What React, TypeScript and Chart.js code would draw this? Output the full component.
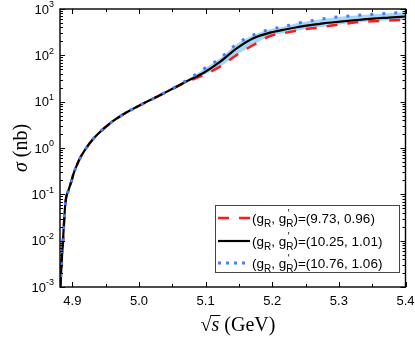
import React, { useEffect, useRef } from 'react';
import { Chart, registerables } from 'chart.js';

Chart.register(...registerables);

// sqrt(s) in GeV
const energies = [4.8820, 4.8840, 4.8855, 4.8870, 4.8890, 4.8905, 4.8940, 4.8990, 4.9015, 4.9060, 4.9115, 4.9190, 4.9315, 4.9565, 4.9816, 5.0065, 5.0316, 5.0466, 5.0716, 5.0966, 5.1216, 5.1466, 5.1716, 5.1966, 5.2167, 5.2367, 5.2567, 5.2766, 5.3017, 5.3267, 5.3512, 5.3750, 5.4000];
// sigma (nb) for (gR, gR') = (10.25, 1.01)
const sigmaCentral = [0.0009, 0.0035, 0.0075, 0.018, 0.052, 0.082, 0.12, 0.20, 0.27, 0.40, 0.60, 0.91, 1.58, 3.4, 5.9, 9.1, 13.8, 17.8, 27.5, 41.7, 72, 141, 234, 309, 355, 403, 447, 491, 535, 579, 620, 652, 688];
// sigma (nb) for (gR, gR') = (9.73, 0.96)
const sigmaLow = [0.0009, 0.0035, 0.0075, 0.018, 0.052, 0.082, 0.12, 0.20, 0.27, 0.40, 0.60, 0.91, 1.58, 3.4, 5.9, 9.1, 13.8, 17.6, 26.6, 37.6, 57, 102, 167, 261, 300, 340, 380, 412, 465, 516, 545, 565, 585];
// sigma (nb) for (gR, gR') = (10.76, 1.06)
const sigmaHigh = [0.0009, 0.0035, 0.0075, 0.018, 0.052, 0.082, 0.12, 0.20, 0.27, 0.40, 0.60, 0.91, 1.58, 3.4, 5.9, 9.1, 13.8, 18.0, 29.0, 50, 86, 176, 275, 365, 415, 490, 551, 615, 682, 728, 769, 810, 852];

const xTickValues = [4.9, 5.0, 5.1, 5.2, 5.3, 5.4];
const xTickLabels = ['4.9', '5.0', '5.1', '5.2', '5.3', '5.4'];
const xMinorValues = [4.95, 5.05, 5.15, 5.25, 5.35];
const yTickExponents = [-3, -2, -1, 0, 1, 2, 3];

const legendG = ['9.73', '10.25', '10.76'];
const legendGp = ['0.96', '1.01', '1.06'];

const RED = '#ff1a1a';
const BLACK = '#000000';
const BLUE = '#4a7ef0';
const BAND = '#a6d6f4';
const SANS = '"Liberation Sans", Arial, sans-serif';
const SERIF = '"Liberation Serif", "Times New Roman", serif';

const decor = {
  id: 'decor',
  afterDraw(chart: any) {
    const { ctx, chartArea: a, scales } = chart;
    const xs = scales.x;
    const ys = scales.y;
    ctx.save();
    ctx.strokeStyle = '#000';
    ctx.fillStyle = '#000';

    // ticks (inward on all sides)
    ctx.lineWidth = 1;
    ctx.beginPath();
    const xTick = (v: number, len: number) => {
      const px = Math.round(xs.getPixelForValue(v)) + 0.5;
      ctx.moveTo(px, a.bottom); ctx.lineTo(px, a.bottom - len);
      ctx.moveTo(px, a.top); ctx.lineTo(px, a.top + len);
    };
    xTickValues.forEach((v) => xTick(v, 5));
    xMinorValues.forEach((v) => xTick(v, 3));
    const yTick = (v: number, len: number) => {
      const py = Math.round(ys.getPixelForValue(v)) + 0.5;
      ctx.moveTo(a.left, py); ctx.lineTo(a.left + len, py);
      ctx.moveTo(a.right, py); ctx.lineTo(a.right - len, py);
    };
    yTickExponents.forEach((e, i) => {
      yTick(Math.pow(10, e), 5);
      if (i < yTickExponents.length - 1) {
        for (let k = 2; k <= 9; k++) yTick(k * Math.pow(10, e), 3);
      }
    });
    ctx.stroke();

    // frame
    ctx.lineWidth = 1.4;
    ctx.strokeRect(a.left, a.top, a.right - a.left, a.bottom - a.top);

    // x tick labels
    ctx.font = '13px ' + SANS;
    ctx.textAlign = 'center';
    ctx.textBaseline = 'middle';
    xTickValues.forEach((v, i) => {
      ctx.fillText(xTickLabels[i], xs.getPixelForValue(v), a.bottom + 14);
    });

    // y tick labels
    yTickExponents.forEach((e) => {
      const py = ys.getPixelForValue(Math.pow(10, e));
      ctx.textAlign = 'left';
      ctx.font = '9px ' + SANS;
      const es = String(e);
      const ew = ctx.measureText(es).width;
      ctx.font = '13px ' + SANS;
      const bw = ctx.measureText('10').width;
      const right = 54;
      const x0 = right - ew - bw;
      ctx.fillText('10', x0, py + 1);
      ctx.font = '9px ' + SANS;
      ctx.fillText(es, x0 + bw, py - 4);
    });

    // y title
    ctx.save();
    ctx.translate(22, (a.top + a.bottom) / 2);
    ctx.rotate(-Math.PI / 2);
    ctx.textAlign = 'left';
    ctx.textBaseline = 'middle';
    ctx.font = 'italic 20px ' + SERIF;
    const sw = ctx.measureText('\u03c3').width;
    ctx.font = '20px ' + SERIF;
    const nw = ctx.measureText(' (nb)').width;
    const tx = -(sw + nw) / 2;
    ctx.font = 'italic 20px ' + SERIF;
    ctx.fillText('\u03c3', tx, 0);
    ctx.font = '20px ' + SERIF;
    ctx.fillText(' (nb)', tx + sw, 0);
    ctx.restore();

    // x title
    {
      ctx.textAlign = 'left';
      ctx.textBaseline = 'alphabetic';
      const base = 331;
      ctx.font = '20px ' + SERIF;
      const rm = ctx.measureText('\u221a');
      const rw = rm.width;
      ctx.font = 'italic 20px ' + SERIF;
      const s2 = ctx.measureText('s').width;
      ctx.font = '20px ' + SERIF;
      const gw = ctx.measureText(' (GeV)').width;
      const total = rw + s2 + gw;
      let x = 238 - total / 2;
      ctx.font = '20px ' + SERIF;
      ctx.fillText('\u221a', x, base);
      const topY = base - (rm.actualBoundingBoxAscent || 15) + 0.5;
      ctx.lineWidth = 1;
      ctx.beginPath();
      ctx.moveTo(x + rw - 1, topY);
      ctx.lineTo(x + rw + s2 + 1, topY);
      ctx.stroke();
      x += rw;
      ctx.font = 'italic 20px ' + SERIF;
      ctx.fillText('s', x, base);
      x += s2;
      ctx.font = '20px ' + SERIF;
      ctx.fillText(' (GeV)', x, base);
    }

    // legend
    const bx = 215, by = 205, bw2 = 184, bh = 67;
    ctx.fillStyle = '#fff';
    ctx.fillRect(bx, by, bw2, bh);
    ctx.strokeStyle = '#444';
    ctx.lineWidth = 1;
    ctx.strokeRect(bx + 0.5, by + 0.5, bw2, bh);
    const rows = [218, 241, 263];
    const styles = [
      { color: RED, dash: [11, 10], width: 2.5 },
      { color: BLACK, dash: [], width: 2.2 },
      { color: BLUE, dash: [3, 5], width: 3 },
    ];
    rows.forEach((ry, i) => {
      const st = styles[i];
      ctx.strokeStyle = st.color;
      ctx.lineWidth = st.width;
      ctx.setLineDash(st.dash);
      ctx.beginPath();
      ctx.moveTo(218, ry);
      ctx.lineTo(250, ry);
      ctx.stroke();
      ctx.setLineDash([]);
      ctx.fillStyle = '#000';
      ctx.textAlign = 'left';
      ctx.textBaseline = 'alphabetic';
      const big = '13.5px ' + SANS;
      const small = '10px ' + SANS;
      const base = ry + 5;
      let cx = 252;
      const put = (t: string, font: string, dy: number) => {
        ctx.font = font;
        ctx.fillText(t, cx, base + dy);
        cx += ctx.measureText(t).width;
      };
      put('(g', big, 0);
      put('R', small, 4);
      put(', g', big, 0);
      ctx.font = small;
      ctx.fillText("'", cx + 1.5, base - 6);
      put('R', small, 4);
      put(')=(' + legendG[i] + ', ' + legendGp[i] + ')', big, 0);
    });

    ctx.restore();
  },
};

export default function App() {
  const ref = useRef<HTMLCanvasElement>(null);
  useEffect(() => {
    const pts = (ys: number[]) => energies.map((x, i) => ({ x, y: ys[i] }));
    const chart = new Chart(ref.current as HTMLCanvasElement, {
      type: 'line',
      data: {
        datasets: [
          {
            label: '(9.73, 0.96)',
            data: pts(sigmaLow),
            borderColor: RED,
            borderWidth: 2.5,
            borderDash: [11, 10],
            pointRadius: 0,
            fill: false,
            cubicInterpolationMode: 'monotone',
            order: 3,
          },
          {
            label: '(10.25, 1.01)',
            data: pts(sigmaCentral),
            borderColor: BLACK,
            borderWidth: 2.2,
            pointRadius: 0,
            fill: false,
            cubicInterpolationMode: 'monotone',
            order: 2,
          },
          {
            label: '(10.76, 1.06)',
            data: pts(sigmaHigh),
            borderColor: BLUE,
            borderWidth: 3,
            borderDash: [3, 9],
            pointRadius: 0,
            fill: 0,
            backgroundColor: BAND,
            cubicInterpolationMode: 'monotone',
            order: 1,
          },
        ],
      },
      options: {
        responsive: false,
        animation: false,
        devicePixelRatio: 1,
        layout: { padding: { left: 60, top: 9, right: 9.5, bottom: 56 } },
        plugins: {
          legend: { display: false },
          tooltip: { enabled: false },
          filler: { drawTime: 'beforeDatasetsDraw' },
        },
        scales: {
          x: { type: 'linear', min: 4.8815, max: 5.4, display: false },
          y: { type: 'logarithmic', min: 0.001, max: 1000, display: false },
        },
      } as any,
      plugins: [decor],
    });
    return () => chart.destroy();
  }, []);
  return (
    <div style={{ position: 'fixed', left: 0, top: 0, width: 415, height: 343, background: '#fff' }}>
      <canvas ref={ref} width={415} height={343} style={{ display: 'block', width: 415, height: 343 }} />
    </div>
  );
}
